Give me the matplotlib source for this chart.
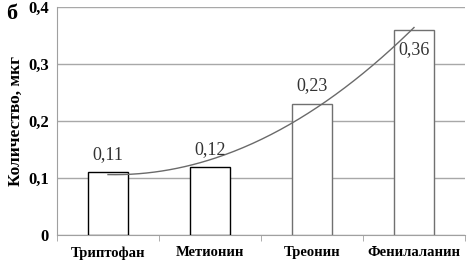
import numpy as np
import matplotlib
matplotlib.use('Agg')
import matplotlib.pyplot as plt

plt.rcParams['font.family'] = ['Liberation Serif', 'DejaVu Serif']

categories = ['Триптофан', 'Метионин', 'Треонин', 'Фенилаланин']
values = [0.11, 0.12, 0.23, 0.36]
value_labels = ['0,11', '0,12', '0,23', '0,36']
label_offsets = [13, 12, 13, -14]
edge_colors = ['black', 'black', '#707070', '#707070']
y_ticks = [0, 0.1, 0.2, 0.3, 0.4]
y_tick_labels = ['0', '0,1', '0,2', '0,3', '0,4']

fig = plt.figure(figsize=(4.69, 2.66), dpi=100)
ax = fig.add_axes([57 / 469, 31 / 266, 408 / 469, 228 / 266])

x = np.arange(len(categories))
ax.bar(x, values, width=0.4, color='white', edgecolor=edge_colors, linewidth=1, zorder=3)

# polynomial trend line (2nd order) over the bars
coef = np.polyfit(x, values, 2)
xs = np.linspace(x[0], x[-1], 200)
ax.plot(xs, np.polyval(coef, xs), color='#6a6a6a', linewidth=1, zorder=4)

for xi, v, lab, off in zip(x, values, value_labels, label_offsets):
    ax.annotate(lab, (xi, v), xytext=(0, off), textcoords='offset points',
                ha='center', va='center', fontsize=13, color='#333333', zorder=5)

ax.set_xlim(-0.5, len(categories) - 0.5)
ax.set_ylim(0, 0.4)
ax.set_yticks(y_ticks)
ax.set_yticklabels(y_tick_labels, fontsize=12, fontweight='bold')
ax.tick_params(axis='y', length=0, pad=6)
ax.yaxis.grid(True, color='#a8a8a8', linewidth=1, zorder=0)

ax.set_xticks(x)
ax.set_xticklabels(categories, fontsize=10.5, fontweight='bold')
ax.set_xticks(np.arange(-0.5, len(categories), 1), minor=True)
ax.tick_params(axis='x', which='major', length=0, pad=8)
ax.tick_params(axis='x', which='minor', length=4, color='#a0a0a0')

for side in ['top', 'right']:
    ax.spines[side].set_visible(False)
for side in ['left', 'bottom']:
    ax.spines[side].set_color('#a0a0a0')

ax.set_ylabel('Количество, мкг', fontsize=12.5, fontweight='bold', labelpad=3)
fig.text(12 / 469, 1 - 14 / 266, 'б', fontsize=16, fontweight='bold', ha='center', va='center')

fig.savefig('out.png', dpi=100)
